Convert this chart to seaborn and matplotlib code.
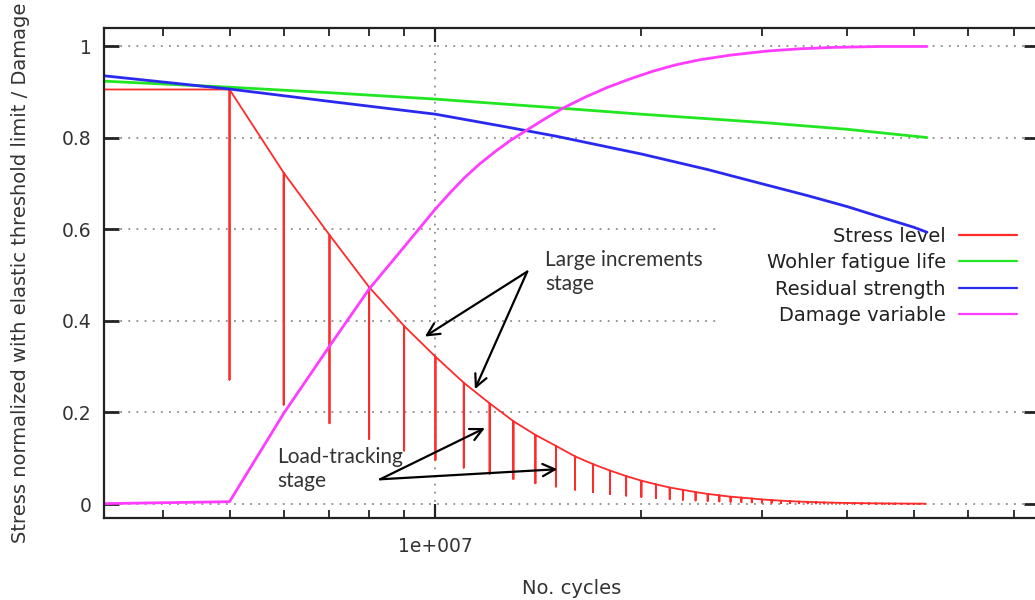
import numpy as np
import pandas as pd
import matplotlib
matplotlib.use('Agg')
import matplotlib.pyplot as plt
from matplotlib.ticker import NullFormatter
import seaborn as sns

# stress level: flat start, then load steps every 1e6 cycles
stress_start_cycles = 3.0e6
stress_start_value = 0.906
step_cycles = [5e6, 6e6, 7e6, 8e6, 9e6, 10e6, 11e6, 12e6, 13e6, 14e6, 15e6, 16e6,
               17e6, 18e6, 19e6, 20e6, 21e6, 22e6, 23e6, 24e6, 25e6, 26e6, 27e6, 28e6,
               29e6, 30e6, 31e6, 32e6, 33e6, 34e6, 35e6, 36e6, 37e6, 38e6, 39e6, 40e6,
               41e6, 42e6, 43e6, 44e6, 45e6, 46e6, 47e6, 48e6, 49e6, 50e6, 51e6, 52e6]
step_stress = [0.906, 0.724, 0.588, 0.474, 0.389, 0.322, 0.265, 0.220, 0.181, 0.151, 0.127, 0.104,
               0.087, 0.073, 0.061, 0.051, 0.043, 0.036, 0.031, 0.026, 0.022, 0.019, 0.016, 0.014,
               0.012, 0.010, 0.0085, 0.0073, 0.0062, 0.0053, 0.0046, 0.0040, 0.0034, 0.0030, 0.0026, 0.0023,
               0.0020, 0.0018, 0.0016, 0.0014, 0.0013, 0.0012, 0.0011, 0.0010, 0.0009, 0.0008, 0.0008, 0.0007]
tracking_ratio = 0.3  # load-tracking drop relative to step level

wohler_cycles = [3.0e6, 5e6, 7e6, 1e7, 1.5e7, 2e7, 3e7, 4e7, 5e7, 5.23e7]
wohler_value = [0.927, 0.911, 0.899, 0.885, 0.866, 0.852, 0.834, 0.819, 0.804, 0.801]

residual_cycles = [3.0e6, 5e6, 7e6, 1e7, 1.25e7, 1.5e7, 2e7, 2.5e7, 3e7, 3.5e7, 4e7, 4.5e7, 5e7, 5.23e7]
residual_value = [0.942, 0.907, 0.880, 0.852, 0.826, 0.804, 0.765, 0.731, 0.700, 0.674, 0.650, 0.626, 0.605, 0.594]

damage_cycles = [3.0e6, 5e6, 6e6, 7e6, 8e6, 9e6, 1e7, 1.05e7, 1.104e7, 1.162e7, 1.222e7,
                 1.285e7, 1.359e7, 1.446e7, 1.535e7, 1.654e7, 1.78e7, 1.924e7, 2.08e7,
                 2.247e7, 2.436e7, 2.696e7, 3.05e7, 3.412e7, 3.812e7, 4.466e7, 5.23e7]
damage_value = [0.0, 0.005, 0.198, 0.345, 0.470, 0.562, 0.645, 0.680, 0.714, 0.744, 0.770,
                0.794, 0.817, 0.842, 0.865, 0.889, 0.910, 0.929, 0.946,
                0.960, 0.971, 0.981, 0.990, 0.995, 0.998, 1.0, 1.0]

xtick_major = [1e7]
xtick_labels = ['1e+007']
xtick_minor = [4e6, 5e6, 6e6, 7e6, 8e6, 9e6, 2e7, 3e7, 4e7, 5e7, 6e7, 7e7]
yticks = [0, 0.2, 0.4, 0.6, 0.8, 1.0]
ytick_labels = ['0', '0.2', '0.4', '0.6', '0.8', '1']

# build the saw-tooth path: down to tracking level and back up at every step
path_x = [stress_start_cycles]
path_y = [stress_start_value]
for c, s in zip(step_cycles, step_stress):
    path_x += [c, c, c]
    path_y += [s, s * tracking_ratio, s]
stress_df = pd.DataFrame({'cycles': path_x, 'value': path_y})

sns.set_style('white')
plt.rcParams['font.family'] = ['DejaVu Sans']

fig = plt.figure(figsize=(10.35, 6.0), dpi=100)
ax = fig.add_axes([104 / 1035, 1 - 518 / 600, 935 / 1035, 490.5 / 600])
ax.set_xscale('log')

sns.lineplot(data=stress_df, x='cycles', y='value', sort=False, estimator=None,
             color='#ff2a2a', lw=1.3, label='Stress level', ax=ax)
sns.lineplot(x=wohler_cycles, y=wohler_value, sort=False, estimator=None,
             color='#22e622', lw=2.0, label='Wohler fatigue life', ax=ax)
sns.lineplot(x=residual_cycles, y=residual_value, sort=False, estimator=None,
             color='#2a2aee', lw=2.0, label='Residual strength', ax=ax)
sns.lineplot(x=damage_cycles, y=damage_value, sort=False, estimator=None,
             color='#ff3cff', lw=2.0, label='Damage variable', ax=ax)

ax.set_xlim(3.277e6, 7.625e7)
ax.set_ylim(-0.0306, 1.0415)

ax.set_xticks(xtick_major, labels=xtick_labels)
ax.set_xticks(xtick_minor, minor=True)
ax.xaxis.set_minor_formatter(NullFormatter())
ax.set_yticks(yticks, labels=ytick_labels)

grid_kw = dict(color='#8c8c8c', linestyle=(0, (1, 3.5)), linewidth=1.3)
ax.yaxis.grid(True, which='major', **grid_kw)
ax.xaxis.grid(True, which='major', **grid_kw)
ax.set_axisbelow(True)

ax.tick_params(axis='y', which='major', direction='in', length=11, width=2,
               right=True, left=True, color='#222222', labelsize=13.5,
               labelcolor='#333333', pad=9)
ax.tick_params(axis='x', which='major', direction='in', length=10, width=1.6,
               top=True, bottom=True, color='#222222', labelsize=13.5,
               labelcolor='#333333', pad=14)
ax.tick_params(axis='x', which='minor', direction='in', length=6, width=1.3,
               top=True, bottom=True, color='#222222')
for side in ['left', 'bottom', 'top']:
    ax.spines[side].set_color('#222222')
    ax.spines[side].set_linewidth(1.6)
ax.spines['right'].set_visible(False)

ax.set_xlabel('No. cycles', fontsize=14, color='#333333', labelpad=16)
ax.set_ylabel('Stress normalized with elastic threshold limit / Damage',
              fontsize=14, color='#333333', labelpad=23)

leg = ax.legend(loc='upper right', bbox_to_anchor=(1025 / 1035, 1 - 219 / 600),
                bbox_transform=fig.transFigure, borderaxespad=0, markerfirst=False,
                fontsize=14, handlelength=3.0, handletextpad=0.67, labelspacing=0.38,
                borderpad=0.4, frameon=True, fancybox=False)
# key area hides the grid but stays under the curves (gnuplot look)
leg.set_zorder(1.5)
leg.get_frame().set_facecolor('white')
leg.get_frame().set_edgecolor('none')
leg.get_frame().set_alpha(1)
leg.get_frame().set_boxstyle('square', pad=2.05)
for t in leg.get_texts():
    t.set_color('#222222')
for h in leg.get_lines():
    h.set_linewidth(1.6)

# annotations
arrow_kw = dict(arrowstyle='->', color='black', lw=1.6, shrinkA=0, shrinkB=0,
                mutation_scale=22)
note_font = dict(family=['Lato', 'DejaVu Sans'], fontsize=15, color='#333333')

ax.text(1.445e7, 0.507, 'Large increments\nstage', ha='left', va='center',
        linespacing=1.2, **note_font)
for tip in [(9.65e6, 0.366), (1.142e7, 0.251)]:
    ax.annotate('', xy=tip, xytext=(1.362e7, 0.508), arrowprops=arrow_kw)

ax.text(5.87e6, 0.0765, 'Load-tracking\nstage', ha='left', va='center',
        linespacing=1.2, **note_font)
for tip in [(1.181e7, 0.166), (1.507e7, 0.076)]:
    ax.annotate('', xy=tip, xytext=(8.30e6, 0.054), arrowprops=arrow_kw)

fig.savefig('out.png', dpi=100)
